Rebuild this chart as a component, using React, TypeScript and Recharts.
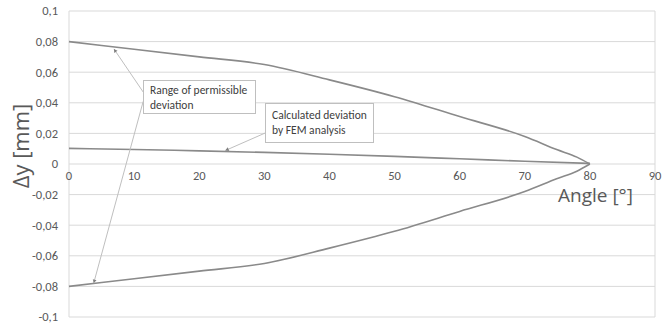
import React from "react";
import {
  LineChart,
  Line,
  XAxis,
  YAxis,
  CartesianGrid,
  ReferenceLine,
  ReferenceDot,
} from "recharts";

// Valores (angulo em graus, desvio em mm)
const angles = [0, 10, 20, 30, 40, 50, 60, 70, 75, 78, 80];
const upperLimit = [0.08, 0.075, 0.07, 0.065, 0.055, 0.044, 0.031, 0.018, 0.0093, 0.0045, 0];
const lowerLimit = [-0.08, -0.075, -0.07, -0.065, -0.055, -0.044, -0.031, -0.018, -0.0095, -0.0047, 0];

const femAngles = [0, 10, 20, 30, 40, 50, 60, 70, 80];
const femDeviation = [0.0102, 0.0095, 0.0086, 0.0076, 0.0064, 0.005, 0.0034, 0.0018, 0.0004];

const xTicks = [0, 10, 20, 30, 40, 50, 60, 70, 80, 90];
const yTicks = [-0.1, -0.08, -0.06, -0.04, -0.02, 0, 0.02, 0.04, 0.06, 0.08, 0.1];

// setas das caixas de texto (coordenadas em dados)
const arrows = [
  { from: [11.4, 0.047], to: [6.9, 0.0752] },
  { from: [11.4, 0.041], to: [3.8, -0.0778] },
  { from: [30.8, 0.0215], to: [24, 0.0088] },
];

const upperData = angles.map((a, i) => ({ x: a, y: upperLimit[i] }));
const lowerData = angles.map((a, i) => ({ x: a, y: lowerLimit[i] }));
const femData = femAngles.map((a, i) => ({ x: a, y: femDeviation[i] }));

const fmt = (v: number) => String(v).replace(".", ",");

const LINE = "#8a8a8a";
const TXT = "#595959";
const FONT = "Calibri, Carlito, 'Open Sans', sans-serif";

const arrowShape = (props: any) => {
  const { x1, y1, x2, y2 } = props;
  const ang = Math.atan2(y2 - y1, x2 - x1);
  const s = 4;
  const p1 = [x2 - s * Math.cos(ang - 0.5), y2 - s * Math.sin(ang - 0.5)];
  const p2 = [x2 - s * Math.cos(ang + 0.5), y2 - s * Math.sin(ang + 0.5)];
  return (
    <g>
      <line x1={x1} y1={y1} x2={x2} y2={y2} stroke="#bfbfbf" strokeWidth={1} />
      <polygon points={`${x2},${y2} ${p1[0]},${p1[1]} ${p2[0]},${p2[1]}`} fill="#7f7f7f" />
    </g>
  );
};

const boxStyle: React.CSSProperties = {
  position: "absolute",
  background: "#fff",
  border: "1px solid #bfbfbf",
  fontFamily: FONT,
  fontSize: 11.5,
  color: "#404040",
  lineHeight: "15px",
  padding: "2px 6px",
  boxSizing: "border-box",
  whiteSpace: "nowrap",
};

export default function App() {
  return (
    <div style={{ position: "absolute", left: 0, top: 0, width: 670, height: 327, background: "#fff" }}>
      <LineChart
        width={670}
        height={327}
        margin={{ top: 11, right: 15, bottom: 10, left: 0 }}
      >
        <CartesianGrid stroke="#d9d9d9" strokeWidth={1} />
        <XAxis
          type="number"
          dataKey="x"
          domain={[0, 90]}
          ticks={xTicks}
          tick={false}
          axisLine={false}
          tickLine={false}
          height={0}
        />
        <YAxis
          type="number"
          dataKey="y"
          domain={[-0.1, 0.1]}
          ticks={yTicks}
          tickFormatter={fmt}
          width={69}
          axisLine={false}
          tickLine={false}
          tickSize={0}
          tickMargin={11}
          tick={{ fill: TXT, fontSize: 12.5, fontFamily: FONT }}
        />
        {xTicks.map((t) => (
          <ReferenceDot
            key={t}
            x={t}
            y={0}
            r={0}
            stroke="none"
            label={{ value: fmt(t), position: "bottom", offset: 7, fill: TXT, fontSize: 12.5, fontFamily: FONT }}
          />
        ))}
        <Line data={upperData} dataKey="y" type="monotone" stroke={LINE} strokeWidth={1.6} dot={false} isAnimationActive={false} />
        <Line data={lowerData} dataKey="y" type="monotone" stroke={LINE} strokeWidth={1.6} dot={false} isAnimationActive={false} />
        <Line data={femData} dataKey="y" type="monotone" stroke={LINE} strokeWidth={1.6} dot={false} isAnimationActive={false} />
        {arrows.map((a, i) => (
          <ReferenceLine
            key={i}
            segment={[
              { x: a.from[0], y: a.from[1] },
              { x: a.to[0], y: a.to[1] },
            ]}
            shape={arrowShape}
          />
        ))}
      </LineChart>
      <div style={{ ...boxStyle, left: 143, top: 80, width: 113, height: 34 }}>
        Range of permissible
        <br />
        deviation
      </div>
      <div style={{ ...boxStyle, left: 265, top: 103, width: 109, height: 40, paddingTop: 4 }}>
        Calculated deviation
        <br />
        by FEM analysis
      </div>
      <div
        style={{
          position: "absolute",
          left: 558,
          top: 184,
          fontFamily: "'Open Sans', sans-serif",
          fontSize: 19,
          lineHeight: "22px",
          color: TXT,
          whiteSpace: "nowrap",
        }}
      >
        Angle [°]
      </div>
      <div
        style={{
          position: "absolute",
          left: 20,
          top: 146,
          transform: "translate(-50%, -50%) rotate(-90deg)",
          fontFamily: "'Open Sans', sans-serif",
          fontSize: 22,
          color: TXT,
          whiteSpace: "nowrap",
        }}
      >
        Δy [mm]
      </div>
    </div>
  );
}
